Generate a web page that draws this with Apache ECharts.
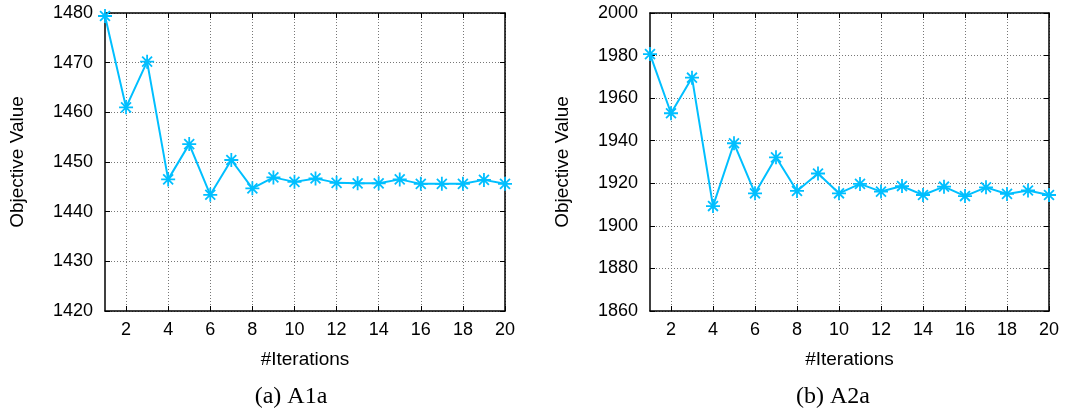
<!DOCTYPE html>
<html><head><meta charset="utf-8">
<script src="https://cdn.jsdelivr.net/npm/echarts@6/dist/echarts.min.js"></script>
<style>html,body{margin:0;padding:0;background:#fff}#c{width:1066px;height:410px}</style>
</head><body><div id="c"></div>
<script>
const iterations = [1,2,3,4,5,6,7,8,9,10,11,12,13,14,15,16,17,18,19,20];
const valuesA1a = [1479.4,1461.0,1470.2,1446.5,1453.6,1443.4,1450.4,1444.7,1446.9,1446.0,1446.7,1445.8,1445.7,1445.7,1446.5,1445.6,1445.6,1445.6,1446.4,1445.6];
const valuesA2a = [1980.7,1952.9,1969.6,1909.3,1938.8,1915.3,1932.2,1916.4,1924.6,1915.3,1919.7,1916.1,1918.7,1914.5,1918.4,1914.0,1918.1,1915.0,1916.6,1914.5];
const yRangeA1a = {min:1420, max:1480, interval:10};
const yRangeA2a = {min:1860, max:2000, interval:20};
const captions = ['(a) A1a','(b) A2a'];
const xName = '#Iterations';
const yName = 'Objective Value';

const lineColor = '#00BFFF';
const star = 'path://M0,-10L0,10M-10,0L10,0M-7.07,-7.07L7.07,7.07M-7.07,7.07L7.07,-7.07';
const sans = 'Liberation Sans';
const evenOnly = (idx, val) => Number(val) % 2 === 0;

const grids = [
  {left:105, top:13, width:400, height:298},
  {left:650, top:13, width:399, height:298}
];
const xAxes = [], yAxes = [], series = [];
[[valuesA1a, yRangeA1a],[valuesA2a, yRangeA2a]].forEach(([vals, rng], g) => {
  grids[g].show = false;
  xAxes.push({
    gridIndex:g, type:'category', data:iterations.map(String), boundaryGap:false,
    name:xName, nameLocation:'middle', nameGap:39,
    nameTextStyle:{fontFamily:sans, fontSize:19, color:'#000'},
    axisLine:{lineStyle:{color:'#000', width:1.5}},
    axisTick:{inside:true, length:5, interval:evenOnly, lineStyle:{color:'#000'}},
    axisLabel:{interval:evenOnly, fontFamily:sans, fontSize:18, color:'#000', margin:10},
    splitLine:{show:true, interval:evenOnly, lineStyle:{color:'#777', type:[1,2], width:1}}
  });
  xAxes.push({
    gridIndex:g, type:'category', data:iterations.map(String), boundaryGap:false, position:'top',
    axisLine:{lineStyle:{color:'#000', width:1.5}},
    axisTick:{inside:true, length:5, interval:evenOnly, lineStyle:{color:'#000'}},
    axisLabel:{show:false}, splitLine:{show:false}
  });
  yAxes.push({
    gridIndex:g, type:'value', min:rng.min, max:rng.max, interval:rng.interval,
    name:yName, nameLocation:'middle', nameGap:78, nameRotate:90,
    nameTextStyle:{fontFamily:sans, fontSize:19, color:'#000'},
    axisLine:{show:true, lineStyle:{color:'#000', width:1.5}},
    axisTick:{show:true, inside:true, length:5, lineStyle:{color:'#000'}},
    axisLabel:{fontFamily:sans, fontSize:18, color:'#000', margin:12, formatter:v => String(v)},
    splitLine:{show:true, lineStyle:{color:'#777', type:[1,2], width:1}}
  });
  yAxes.push({
    gridIndex:g, type:'value', min:rng.min, max:rng.max, interval:rng.interval, position:'right',
    axisLine:{show:true, lineStyle:{color:'#000', width:1.5}},
    axisTick:{show:true, inside:true, length:5, lineStyle:{color:'#000'}},
    axisLabel:{show:false}, splitLine:{show:false}
  });
  series.push({
    type:'line', xAxisIndex:g*2, yAxisIndex:g*2, data:vals,
    symbol:star, symbolSize:14, showAllSymbol:true,
    lineStyle:{color:lineColor, width:2},
    itemStyle:{color:lineColor, borderColor:lineColor, borderWidth:1.8},
    clip:false, animation:false
  });
});

const chart = echarts.init(document.getElementById('c'), null, {renderer:'canvas'});
chart.setOption({
  animation:false,
  grid:grids, xAxis:xAxes, yAxis:yAxes, series:series,
  graphic:[
    {type:'text', x:291, y:397, style:{text:captions[0], font:'24px "Liberation Serif"', fill:'#000', align:'center', verticalAlign:'middle'}},
    {type:'text', x:833, y:397, style:{text:captions[1], font:'24px "Liberation Serif"', fill:'#000', align:'center', verticalAlign:'middle'}}
  ]
});
</script></body></html>
